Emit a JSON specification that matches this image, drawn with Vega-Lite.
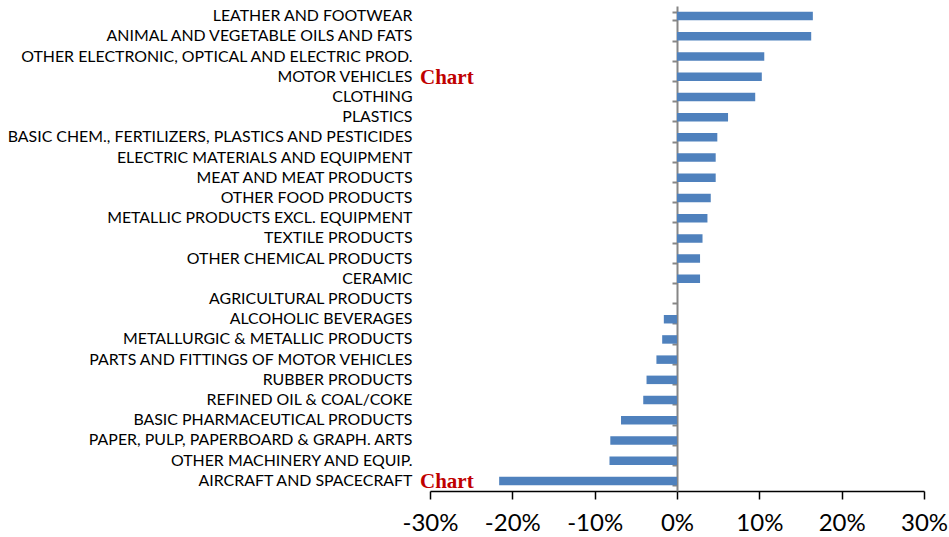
{
  "$schema": "https://vega.github.io/schema/vega-lite/v6.json",
  "width": 494,
  "height": 485,
  "autosize": {"type": "none"},
  "padding": {"left": 430, "top": 6, "right": 25, "bottom": 46},
  "background": "white",
  "config": {"view": {"stroke": null}, "font": "Lato"},
  "data": {
    "values": [
      {"sector": "LEATHER AND FOOTWEAR", "change": 16.5, "note": ""},
      {"sector": "ANIMAL AND VEGETABLE OILS AND FATS", "change": 16.3, "note": ""},
      {"sector": "OTHER ELECTRONIC, OPTICAL AND ELECTRIC PROD.", "change": 10.6, "note": ""},
      {"sector": "MOTOR VEHICLES", "change": 10.3, "note": "Chart"},
      {"sector": "CLOTHING", "change": 9.5, "note": ""},
      {"sector": "PLASTICS", "change": 6.2, "note": ""},
      {"sector": "BASIC CHEM., FERTILIZERS, PLASTICS AND PESTICIDES", "change": 4.9, "note": ""},
      {"sector": "ELECTRIC MATERIALS AND EQUIPMENT", "change": 4.7, "note": ""},
      {"sector": "MEAT AND MEAT PRODUCTS", "change": 4.7, "note": ""},
      {"sector": "OTHER FOOD PRODUCTS", "change": 4.1, "note": ""},
      {"sector": "METALLIC PRODUCTS EXCL. EQUIPMENT", "change": 3.7, "note": ""},
      {"sector": "TEXTILE PRODUCTS", "change": 3.1, "note": ""},
      {"sector": "OTHER CHEMICAL PRODUCTS", "change": 2.8, "note": ""},
      {"sector": "CERAMIC", "change": 2.8, "note": ""},
      {"sector": "AGRICULTURAL PRODUCTS", "change": 0.0, "note": ""},
      {"sector": "ALCOHOLIC BEVERAGES", "change": -1.6, "note": ""},
      {"sector": "METALLURGIC & METALLIC PRODUCTS", "change": -1.8, "note": ""},
      {"sector": "PARTS AND FITTINGS OF MOTOR VEHICLES", "change": -2.5, "note": ""},
      {"sector": "RUBBER PRODUCTS", "change": -3.7, "note": ""},
      {"sector": "REFINED OIL & COAL/COKE", "change": -4.1, "note": ""},
      {"sector": "BASIC PHARMACEUTICAL PRODUCTS", "change": -6.8, "note": ""},
      {"sector": "PAPER, PULP, PAPERBOARD & GRAPH. ARTS", "change": -8.1, "note": ""},
      {"sector": "OTHER MACHINERY AND EQUIP.", "change": -8.2, "note": ""},
      {"sector": "AIRCRAFT AND SPACECRAFT", "change": -21.6, "note": "Chart"}
    ]
  },
  "resolve": {"axis": {"y": "independent"}},
  "layer": [
    {
      "mark": {"type": "bar", "color": "#4F81BD"},
      "encoding": {
        "y": {
          "field": "sector",
          "type": "nominal",
          "sort": null,
          "scale": {"paddingInner": 0.58, "paddingOuter": 0.29},
          "axis": {
            "title": null,
            "orient": "left",
            "domain": false,
            "ticks": false,
            "labelPadding": 18,
            "labelFont": "Lato",
            "labelFontSize": 15.9,
            "labelColor": "#000000",
            "labelLimit": 0
          }
        },
        "x": {
          "field": "change",
          "type": "quantitative",
          "scale": {"domain": [-30, 30], "nice": false},
          "axis": {
            "title": null,
            "values": [-30, -20, -10, 0, 10, 20, 30],
            "labelExpr": "datum.value + '%'",
            "grid": false,
            "domainColor": "#000000",
            "domainWidth": 1.5,
            "tickColor": "#000000",
            "tickWidth": 1.5,
            "tickSize": 8,
            "labelPadding": 12,
            "labelFont": "Lato",
            "labelFontSize": 24,
            "labelColor": "#000000",
            "labelFlush": false
          }
        }
      }
    },
    {
      "mark": {
        "type": "text",
        "align": "left",
        "baseline": "middle",
        "dx": -10,
        "dy": 1,
        "font": "Liberation Serif",
        "fontWeight": "bold",
        "fontSize": 21,
        "color": "#C00000"
      },
      "encoding": {
        "y": {
          "field": "sector",
          "type": "nominal",
          "sort": null,
          "axis": {
            "title": null,
            "orient": "left",
            "offset": -247,
            "labels": false,
            "domainColor": "#868686",
            "domainWidth": 2,
            "tickColor": "#868686",
            "tickWidth": 2,
            "tickSize": 5,
            "tickBand": "extent"
          }
        },
        "x": {"datum": -30, "type": "quantitative"},
        "text": {"field": "note"}
      }
    }
  ]
}
